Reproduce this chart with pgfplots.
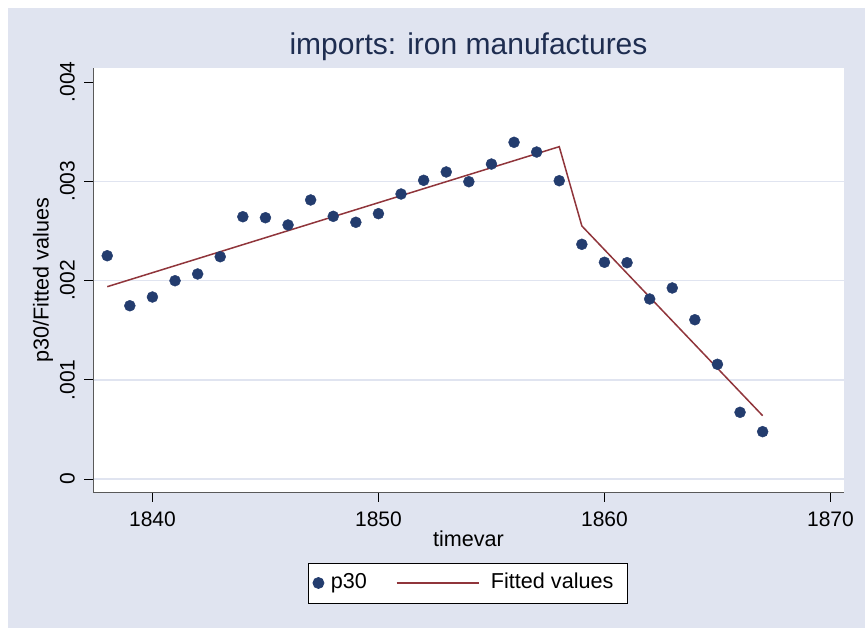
\documentclass[border=0pt]{standalone}
\usepackage{fontspec}
\setmainfont{Liberation Sans}
\usepackage{pgfplots}
\pgfplotsset{compat=1.18}
\definecolor{bgc}{RGB}{224,228,240}
\definecolor{gridc}{RGB}{224,228,240}
\definecolor{navyc}{RGB}{35,60,110}
\definecolor{maroonc}{RGB}{144,53,59}
\definecolor{titlec}{RGB}{30,45,80}
\begin{document}
\begin{tikzpicture}[x=1bp,y=1bp]
\path[use as bounding box] (0,0) rectangle (865,628);
\fill[white] (0,0) rectangle (865,628);
\fill[bgc] (8,0) rectangle (865,620);
\begin{axis}[
  at={(93bp,135.3bp)}, anchor=south west,
  scale only axis, width=751bp, height=424.7bp,
  xmin=1837.37, xmax=1870.6,
  ymin=-0.000138, ymax=0.004142,
  axis background/.style={fill=white},
  axis lines=left,
  axis line style={-, draw=black!65, line width=1bp},
  tick align=outside,
  major tick length=9bp,
  major tick style={black, line width=0.8bp},
  xtick={1840,1850,1860,1870},
  xticklabels={1840,1850,1860,1870},
  ytick={0,0.001,0.002,0.003},
  yticklabels={0,.001,.002,.003},
  extra y ticks={0.004},
  extra y tick labels={.004},
  extra y tick style={grid=none},
  ymajorgrids,
  grid style={gridc, line width=1.6bp},
  /pgf/number format/assume math mode=true,
  tick label style={font=\fontsize{21bp}{25bp}\selectfont, black},
  xticklabel style={anchor=center, yshift=-17.5bp},
  yticklabel style={xshift=-16.5bp, rotate=90, anchor=center},
  scaled y ticks=false,
  title={imports: iron manufactures},
  title style={at={(rel axis cs:0.5,1.0165)}, anchor=base, font=\fontsize{30bp}{36bp}\selectfont, text=titlec},
  xlabel={timevar},
  xlabel style={at={(rel axis cs:0.5,-0.1262)}, anchor=base, font=\fontsize{21.6bp}{26bp}\selectfont},
  ylabel={p30/Fitted values},
  ylabel style={at={(rel axis cs:-0.0666,0.5)}, anchor=center, rotate=0, font=\fontsize{21.6bp}{26bp}\selectfont},
  legend columns=2,
  legend style={at={(rel axis cs:0.4993,-0.2126)}, anchor=center, draw=black, line width=0.8bp, fill=white,
    inner xsep=4bp, inner ysep=10bp, font=\fontsize{21.6bp}{26bp}\selectfont,
    nodes={inner xsep=0bp, inner ysep=0bp, text height=15.5bp, text depth=4.5bp, anchor=west},
    /tikz/column 1/.style={column sep=6.5bp},
    /tikz/column 2/.style={column sep=29bp},
    /tikz/column 3/.style={column sep=11bp}},
  clip=false,
]
\addplot[only marks, mark=*, mark size=5.5bp, mark options={fill=navyc, draw=navyc},
  legend image code/.code={\fill[navyc] (5.5bp,0bp) circle[radius=5.5bp];}]
  coordinates {
(1838,0.002250) (1839,0.001746) (1840,0.001834) (1841,0.001998) (1842,0.002066)
(1843,0.002240) (1844,0.002643) (1845,0.002633) (1846,0.002560) (1847,0.002812)
(1848,0.002647) (1849,0.002587) (1850,0.002674) (1851,0.002872) (1852,0.003010)
(1853,0.003094) (1854,0.002996) (1855,0.003174) (1856,0.003393) (1857,0.003295)
(1858,0.003006) (1859,0.002365) (1860,0.002184) (1861,0.002180) (1862,0.001814)
(1863,0.001925) (1864,0.001605) (1865,0.001156) (1866,0.000672) (1867,0.000477)
};
\addlegendentry{p30}
\addplot[maroonc, line width=1.5bp, no marks,
  legend image code/.code={\draw[maroonc, line width=1.5bp] (0bp,0bp) -- (82.6bp,0bp);}]
  coordinates {(1838,0.001938) (1858,0.003349) (1859,0.002550) (1867,0.000638)};
\addlegendentry{Fitted values\hspace*{10bp}}
\end{axis}
\end{tikzpicture}
\end{document}
